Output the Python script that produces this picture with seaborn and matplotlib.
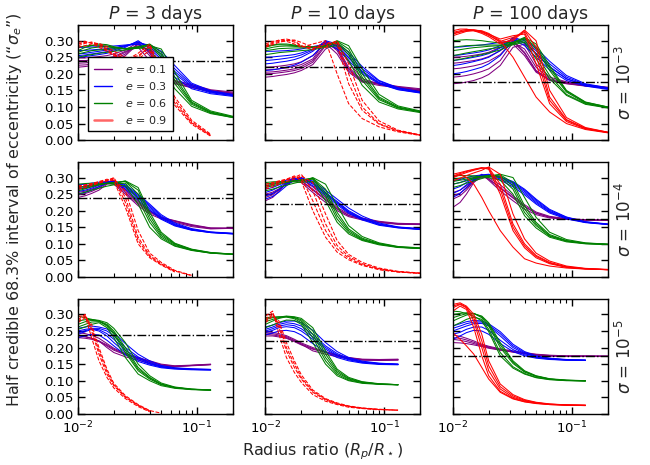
import numpy as np
import pandas as pd
import matplotlib
matplotlib.use('Agg')
import matplotlib.pyplot as plt
import seaborn as sns
from matplotlib.lines import Line2D
from matplotlib.ticker import FormatStrFormatter, NullFormatter, LogLocator

nan = np.nan

# common radius-ratio grid used for all curves
x_grid = [0.010, 0.0115, 0.013, 0.015, 0.0175, 0.020, 0.025, 0.032, 0.040, 0.050, 0.065, 0.090, 0.130, 0.200]

periods = [3, 10, 100]
sigma_exp = [-3, -4, -5]
ecc = [0.1, 0.3, 0.6, 0.9]
ecc_colors = ['purple', 'blue', 'green', 'red']
# dash-dot reference level per period
ref_level = [0.238, 0.220, 0.174]
y_ticks = [0.00, 0.05, 0.10, 0.15, 0.20, 0.25, 0.30]

# ---- sigma = 1e-3 ----
s3_p3_e01 = [[.220, .222, .225, .228, .232, .238, .255, .290, .255, .200, .175, .165, .150, .142],
             [.232, .233, .235, .238, .242, .248, .265, .285, .270, .215, .180, .168, .152, .145],
             [.240, .240, .242, .245, .248, .252, .268, .280, .240, .195, .170, .158, .148, .140],
             [.248, .248, .250, .252, .255, .260, .272, .295, .262, .205, .172, .160, .146, .138],
             [.226, .227, .229, .232, .236, .242, .260, .292, .265, .210, .178, .163, .149, .141]]
s3_p3_e03 = [[.250, .252, .255, .258, .262, .268, .280, .300, .275, .245, .200, .160, .143, .134],
             [.260, .262, .265, .268, .272, .276, .285, .295, .285, .260, .215, .168, .147, .136],
             [.270, .271, .272, .274, .276, .279, .285, .290, .270, .235, .190, .155, .140, .132],
             [.280, .280, .281, .282, .283, .284, .287, .290, .288, .268, .225, .172, .149, .138],
             [.255, .257, .260, .263, .267, .272, .283, .297, .280, .252, .207, .164, .145, .135]]
s3_p3_e06 = [[.270, .280, .285, .290, .288, .282, .275, .280, .290, .265, .190, .115, .085, .070],
             [.260, .265, .270, .272, .274, .275, .276, .282, .288, .250, .170, .108, .082, .068],
             [.250, .255, .258, .262, .265, .268, .272, .278, .275, .225, .155, .102, .080, .068],
             [.280, .284, .286, .286, .284, .280, .276, .277, .285, .275, .205, .120, .088, .072],
             [.265, .272, .278, .281, .281, .279, .276, .280, .287, .258, .180, .112, .084, .070]]
s3_p3_e09 = [[.285, .292, .296, .290, .275, .260, .245, .250, .285, .200, .120, .055, .015, nan],
             [.280, .285, .290, .292, .282, .268, .250, .245, .270, .180, .105, .048, .012, nan],
             [.295, .298, .292, .280, .268, .255, .240, .262, .290, .215, .130, .060, .018, nan],
             [.290, .295, .294, .286, .272, .258, .243, .255, .280, .190, .112, .052, .014, nan]]

s3_p10_e01 = [[.190, .192, .195, .198, .203, .210, .228, .275, .290, .235, .185, .170, .160, .152],
              [.200, .201, .203, .206, .210, .216, .235, .285, .280, .220, .180, .168, .158, .150],
              [.212, .213, .215, .218, .222, .228, .245, .300, .270, .210, .178, .172, .162, .155],
              [.220, .221, .223, .226, .230, .236, .255, .292, .260, .205, .175, .165, .158, .150],
              [.205, .206, .208, .211, .215, .222, .240, .290, .275, .215, .178, .169, .160, .152]]
s3_p10_e03 = [[.210, .212, .215, .220, .226, .235, .255, .295, .285, .250, .205, .172, .153, .143],
              [.230, .232, .235, .238, .243, .250, .268, .300, .290, .258, .215, .178, .157, .145],
              [.250, .251, .253, .255, .258, .263, .275, .295, .275, .240, .200, .170, .152, .142],
              [.268, .268, .269, .270, .272, .275, .282, .290, .292, .265, .222, .180, .158, .146],
              [.240, .242, .244, .247, .251, .257, .272, .298, .282, .248, .208, .174, .155, .144]]
s3_p10_e06 = [[.280, .286, .290, .290, .287, .283, .280, .285, .298, .275, .200, .130, .100, .086],
              [.270, .273, .276, .277, .278, .278, .279, .283, .292, .258, .180, .122, .097, .085],
              [.258, .261, .264, .266, .268, .270, .273, .280, .285, .240, .165, .115, .094, .083],
              [.285, .287, .288, .287, .285, .283, .281, .284, .300, .285, .215, .138, .103, .088],
              [.275, .280, .283, .284, .283, .281, .280, .284, .295, .266, .190, .126, .098, .086]]
s3_p10_e09 = [[.285, .295, .302, .305, .300, .285, .272, .290, .298, .200, .100, .050, .028, .015],
              [.280, .288, .295, .300, .302, .295, .280, .280, .300, .230, .120, .058, .030, .016],
              [.290, .298, .300, .298, .290, .280, .290, .300, .200, .110, .065, .040, .025, .014],
              [.283, .292, .298, .302, .296, .284, .276, .295, .290, .170, .090, .048, .027, .015]]

s3_p100_e01 = [[.170, .172, .175, .180, .188, .198, .225, .280, .290, .230, .190, .176, .166, .160],
               [.190, .192, .195, .200, .207, .215, .240, .295, .275, .220, .185, .174, .165, .158],
               [.215, .217, .220, .224, .230, .238, .258, .300, .265, .210, .182, .172, .164, .158],
               [.250, .251, .253, .256, .260, .265, .280, .290, .255, .205, .180, .170, .163, .157],
               [.232, .234, .237, .240, .245, .252, .270, .298, .262, .208, .181, .171, .164, .158]]
s3_p100_e03 = [[.200, .203, .207, .213, .220, .230, .255, .300, .295, .262, .222, .185, .165, .155],
               [.225, .228, .232, .237, .243, .250, .270, .310, .300, .270, .230, .190, .168, .157],
               [.255, .257, .260, .263, .267, .272, .285, .305, .285, .250, .212, .180, .163, .153],
               [.280, .281, .283, .285, .287, .290, .295, .300, .305, .278, .238, .195, .170, .158],
               [.240, .243, .246, .250, .255, .261, .278, .308, .292, .260, .220, .185, .166, .155]]
s3_p100_e06 = [[.300, .302, .303, .302, .300, .297, .293, .295, .310, .290, .225, .150, .115, .100],
               [.280, .283, .285, .286, .287, .287, .287, .292, .305, .275, .210, .145, .112, .099],
               [.255, .259, .263, .267, .271, .275, .280, .290, .300, .260, .195, .138, .110, .098],
               [.240, .244, .248, .253, .258, .263, .272, .288, .295, .245, .185, .135, .108, .097],
               [.270, .273, .276, .279, .281, .283, .285, .293, .308, .282, .218, .148, .114, .100]]
s3_p100_e09 = [[.320, .326, .330, .332, .330, .322, .300, .250, .190, .130, .085, .050, .032, .022],
               [.325, .330, .334, .333, .328, .318, .295, .300, .330, .280, .130, .062, .036, .024],
               [.315, .322, .328, .330, .327, .320, .305, .315, .320, .230, .110, .056, .034, .023],
               [.330, .335, .335, .330, .322, .312, .290, .305, .332, .300, .150, .068, .038, .024],
               [.322, .327, .331, .331, .325, .316, .298, .310, .325, .255, .120, .060, .035, .023]]

# ---- sigma = 1e-4 ----
s4_p3_e01 = [[.240, .245, .252, .262, .280, .285, .255, .220, .195, .178, .168, .155, .147, .148],
             [.255, .259, .265, .273, .285, .290, .265, .228, .200, .180, .170, .158, .148, .146],
             [.265, .268, .272, .278, .282, .280, .250, .215, .190, .175, .165, .152, .145, .147],
             [.248, .252, .258, .268, .283, .288, .260, .224, .198, .179, .169, .156, .147, .147]]
s4_p3_e03 = [[.250, .255, .262, .272, .283, .288, .272, .242, .212, .180, .158, .143, .135, .131],
             [.265, .269, .275, .282, .288, .290, .278, .250, .220, .188, .163, .146, .136, .132],
             [.278, .280, .283, .286, .288, .285, .265, .232, .202, .174, .154, .141, .134, .130],
             [.270, .273, .277, .282, .285, .286, .270, .238, .207, .177, .156, .142, .134, .130],
             [.258, .262, .268, .277, .286, .289, .275, .246, .216, .184, .160, .144, .135, .131]]
s4_p3_e06 = [[.260, .266, .272, .278, .283, .285, .288, .250, .175, .125, .098, .082, .073, .069],
             [.270, .274, .278, .280, .282, .283, .290, .270, .195, .135, .102, .084, .074, .069],
             [.250, .256, .262, .268, .274, .278, .275, .220, .150, .115, .093, .080, .072, .068],
             [.280, .282, .283, .283, .282, .280, .283, .235, .165, .120, .095, .081, .072, .068],
             [.265, .270, .275, .279, .283, .284, .289, .262, .185, .130, .100, .083, .073, .069]]
s4_p3_e09 = [[.270, .275, .280, .285, .290, .300, .240, .120, .065, .040, .018, .004, nan, nan],
             [.275, .278, .282, .288, .295, .290, .210, .100, .058, .036, .015, nan, nan, nan],
             [.265, .270, .276, .283, .290, .295, .260, .140, .072, .044, .020, .005, nan, nan],
             [.272, .276, .281, .286, .292, .298, .225, .110, .062, .038, .017, nan, nan, nan]]

s4_p10_e01 = [[.230, .240, .258, .285, .300, .290, .262, .232, .205, .185, .175, .166, .160, .160],
              [.240, .248, .262, .282, .295, .295, .272, .240, .210, .190, .178, .168, .162, .160],
              [.250, .256, .266, .280, .290, .285, .255, .225, .200, .182, .172, .164, .159, .158],
              [.245, .252, .264, .281, .293, .290, .265, .235, .206, .186, .175, .166, .160, .159]]
s4_p10_e03 = [[.235, .243, .256, .275, .293, .300, .285, .255, .228, .200, .178, .160, .150, .145],
              [.255, .262, .272, .285, .297, .298, .280, .250, .222, .195, .175, .158, .149, .144],
              [.275, .279, .285, .292, .297, .295, .290, .262, .235, .208, .184, .163, .151, .146],
              [.265, .270, .278, .288, .295, .296, .275, .245, .218, .192, .172, .156, .148, .143],
              [.245, .252, .264, .280, .295, .299, .283, .252, .225, .197, .176, .159, .150, .144]]
s4_p10_e06 = [[.270, .275, .280, .285, .290, .293, .298, .265, .195, .145, .117, .101, .091, .087],
              [.280, .283, .286, .288, .290, .292, .295, .245, .175, .135, .112, .099, .090, .086],
              [.260, .265, .271, .277, .283, .288, .300, .280, .215, .155, .122, .103, .092, .088],
              [.285, .287, .288, .288, .287, .286, .288, .230, .165, .130, .110, .097, .089, .086],
              [.275, .279, .283, .287, .290, .292, .297, .255, .185, .140, .114, .100, .090, .086]]
s4_p10_e09 = [[.270, .278, .285, .293, .300, .310, .260, .160, .095, .062, .040, .025, .016, .011],
              [.280, .285, .290, .295, .305, .290, .200, .120, .075, .052, .035, .022, .015, .011],
              [.265, .272, .280, .288, .295, .305, .285, .190, .110, .068, .044, .027, .017, .012],
              [.275, .281, .288, .294, .302, .300, .230, .140, .085, .057, .037, .023, .015, .011]]

s4_p100_e01 = [[.210, .225, .250, .285, .305, .295, .268, .238, .212, .192, .180, .175, .172, .172],
               [.235, .245, .262, .288, .300, .300, .278, .245, .218, .196, .183, .176, .173, .172],
               [.255, .262, .275, .292, .310, .292, .260, .230, .205, .188, .178, .174, .171, .171],
               [.245, .253, .268, .290, .305, .296, .270, .240, .213, .193, .181, .175, .172, .171]]
s4_p100_e03 = [[.240, .252, .270, .292, .305, .308, .300, .282, .258, .228, .198, .178, .165, .159],
               [.265, .273, .285, .298, .308, .310, .302, .288, .265, .235, .204, .181, .167, .160],
               [.290, .294, .300, .305, .308, .305, .292, .272, .248, .220, .193, .175, .164, .158],
               [.280, .285, .292, .300, .305, .306, .296, .278, .253, .224, .196, .177, .165, .159],
               [.252, .262, .278, .295, .306, .309, .301, .285, .262, .232, .201, .180, .166, .159]]
s4_p100_e06 = [[.280, .285, .290, .296, .302, .306, .308, .285, .215, .165, .128, .110, .102, .099],
               [.295, .298, .300, .302, .304, .305, .300, .265, .195, .155, .123, .108, .101, .098],
               [.270, .276, .283, .290, .297, .303, .310, .300, .240, .180, .135, .113, .103, .099],
               [.305, .306, .306, .305, .303, .300, .292, .250, .185, .148, .120, .106, .100, .098],
               [.288, .292, .295, .299, .303, .305, .305, .275, .205, .160, .125, .109, .101, .098]]
s4_p100_e09 = [[.300, .310, .300, .280, .240, .200, .140, .090, .055, .042, .033, .027, .024, .022],
               [.300, .308, .315, .322, .328, .330, .280, .160, .100, .065, .044, .031, .025, .022],
               [.310, .315, .320, .325, .330, .325, .250, .140, .088, .058, .040, .029, .024, .022],
               [.290, .298, .306, .314, .322, .332, .310, .190, .115, .072, .048, .033, .026, .023],
               [.305, .312, .318, .324, .329, .328, .265, .150, .094, .062, .042, .030, .025, .022]]

# ---- sigma = 1e-5 ----
s5_p3_e01 = [[.230, .228, .225, .218, .205, .192, .178, .168, .158, .148, .144, .146, .149, nan],
             [.245, .242, .237, .228, .212, .198, .182, .170, .160, .150, .145, .147, .150, nan],
             [.238, .234, .228, .220, .200, .185, .172, .162, .152, .145, .142, .145, .148, nan],
             [.235, .232, .228, .220, .208, .195, .180, .166, .156, .147, .143, .146, .149, nan]]
s5_p3_e03 = [[.240, .248, .255, .250, .235, .215, .185, .163, .150, .141, .137, .134, .133, nan],
             [.250, .255, .258, .258, .250, .235, .200, .172, .155, .143, .138, .135, .134, nan],
             [.230, .235, .240, .238, .222, .205, .178, .158, .147, .139, .135, .133, .132, nan],
             [.258, .262, .265, .262, .256, .245, .212, .180, .160, .146, .139, .136, .134, nan],
             [.245, .251, .256, .254, .242, .225, .192, .168, .152, .142, .137, .134, .133, nan]]
s5_p3_e06 = [[.270, .278, .282, .280, .270, .250, .200, .140, .110, .090, .080, .074, .072, nan],
             [.295, .290, .285, .282, .275, .258, .215, .150, .115, .093, .081, .075, .072, nan],
             [.255, .262, .270, .275, .260, .230, .170, .120, .100, .085, .077, .073, .071, nan],
             [.280, .284, .285, .280, .265, .240, .185, .130, .105, .088, .079, .074, .072, nan],
             [.262, .270, .277, .278, .268, .245, .192, .135, .108, .089, .079, .074, .072, nan]]
s5_p3_e09 = [[.285, .300, .250, .180, .120, .085, .050, .025, .008, nan, nan, nan, nan, nan],
             [.275, .290, .270, .200, .135, .092, .055, .028, .010, .002, nan, nan, nan, nan],
             [.295, .295, .230, .160, .110, .078, .046, .022, .006, nan, nan, nan, nan, nan],
             [.280, .296, .260, .190, .128, .088, .052, .026, .009, nan, nan, nan, nan, nan]]

s5_p10_e01 = [[.235, .235, .232, .228, .218, .208, .195, .185, .175, .168, .163, .162, .163, nan],
              [.248, .246, .242, .236, .225, .214, .200, .188, .178, .170, .165, .164, .165, nan],
              [.240, .238, .235, .230, .220, .210, .190, .180, .172, .166, .162, .161, .162, nan],
              [.244, .242, .238, .233, .222, .211, .197, .186, .176, .169, .164, .163, .164, nan]]
s5_p10_e03 = [[.245, .252, .260, .263, .260, .250, .225, .195, .175, .163, .155, .151, .149, nan],
              [.255, .262, .270, .275, .272, .265, .240, .205, .182, .167, .157, .152, .150, nan],
              [.238, .244, .250, .252, .248, .238, .212, .187, .170, .160, .153, .149, .148, nan],
              [.262, .268, .275, .280, .280, .275, .252, .215, .188, .170, .159, .153, .150, nan],
              [.250, .257, .265, .269, .266, .257, .232, .200, .178, .165, .156, .151, .149, nan]]
s5_p10_e06 = [[.270, .280, .288, .293, .290, .280, .240, .170, .125, .105, .095, .090, .088, nan],
              [.285, .290, .292, .295, .293, .288, .260, .190, .135, .110, .097, .091, .088, nan],
              [.260, .268, .276, .283, .282, .270, .215, .150, .115, .100, .092, .089, .087, nan],
              [.290, .292, .293, .292, .287, .275, .230, .160, .120, .102, .094, .090, .088, nan],
              [.278, .285, .290, .294, .291, .284, .250, .180, .130, .107, .096, .090, .088, nan]]
s5_p10_e09 = [[.285, .305, .260, .190, .140, .105, .065, .042, .030, .022, .017, .013, .011, nan],
              [.275, .295, .280, .215, .160, .118, .072, .046, .033, .024, .018, .014, .011, nan],
              [.295, .310, .240, .170, .125, .095, .058, .038, .028, .020, .016, .012, nan, nan],
              [.280, .300, .270, .200, .150, .110, .068, .044, .031, .023, .017, .013, .011, nan]]

s5_p100_e01 = [[.215, .214, .212, .208, .203, .198, .192, .187, .182, .178, .175, .174, .174, .174],
               [.238, .234, .228, .220, .210, .204, .196, .190, .185, .180, .177, .175, .175, .174],
               [.225, .222, .218, .212, .205, .200, .193, .186, .181, .177, .174, .173, .173, .173],
               [.230, .228, .223, .216, .207, .202, .194, .188, .183, .179, .176, .174, .174, .174]]
s5_p100_e03 = [[.225, .235, .245, .252, .250, .240, .212, .188, .175, .168, .164, .162, .161, nan],
               [.250, .258, .265, .272, .273, .265, .235, .200, .182, .172, .166, .163, .162, nan],
               [.265, .272, .278, .282, .280, .272, .248, .210, .188, .175, .168, .164, .162, nan],
               [.240, .246, .255, .262, .262, .252, .222, .194, .178, .170, .165, .162, .161, nan],
               [.258, .265, .272, .277, .277, .268, .242, .205, .185, .173, .167, .163, .162, nan]]
s5_p100_e06 = [[.280, .290, .298, .302, .295, .275, .215, .160, .130, .115, .106, .102, .100, nan],
               [.300, .303, .305, .303, .290, .265, .200, .152, .126, .113, .105, .101, .100, nan],
               [.265, .275, .285, .292, .285, .255, .185, .142, .122, .110, .104, .101, .099, nan],
               [.310, .308, .302, .295, .280, .248, .175, .138, .120, .109, .103, .100, .099, nan],
               [.290, .297, .302, .303, .293, .270, .208, .156, .128, .114, .105, .101, .100, nan]]
s5_p100_e09 = [[.245, .225, .205, .180, .140, .105, .065, .045, .036, .031, .028, .026, .025, nan],
               [.320, .330, .320, .280, .200, .130, .075, .050, .039, .033, .029, .027, .026, nan],
               [.330, .335, .325, .300, .240, .160, .090, .058, .043, .035, .030, .027, .026, nan],
               [.310, .325, .315, .260, .175, .115, .068, .047, .037, .032, .028, .026, .025, nan],
               [.325, .332, .322, .290, .220, .145, .082, .054, .041, .034, .029, .027, .026, nan]]

panels = [
    [[s3_p3_e01, s3_p3_e03, s3_p3_e06, s3_p3_e09],
     [s3_p10_e01, s3_p10_e03, s3_p10_e06, s3_p10_e09],
     [s3_p100_e01, s3_p100_e03, s3_p100_e06, s3_p100_e09]],
    [[s4_p3_e01, s4_p3_e03, s4_p3_e06, s4_p3_e09],
     [s4_p10_e01, s4_p10_e03, s4_p10_e06, s4_p10_e09],
     [s4_p100_e01, s4_p100_e03, s4_p100_e06, s4_p100_e09]],
    [[s5_p3_e01, s5_p3_e03, s5_p3_e06, s5_p3_e09],
     [s5_p10_e01, s5_p10_e03, s5_p10_e06, s5_p10_e09],
     [s5_p100_e01, s5_p100_e03, s5_p100_e06, s5_p100_e09]],
]

sns.set_style('ticks')
plt.rcParams['font.family'] = ['DejaVu Sans']
plt.rcParams['mathtext.fontset'] = 'dejavusans'
plt.rcParams['axes.edgecolor'] = 'black'
plt.rcParams['axes.linewidth'] = 1.0
plt.rcParams['xtick.direction'] = 'in'
plt.rcParams['ytick.direction'] = 'in'
plt.rcParams['xtick.color'] = 'black'
plt.rcParams['ytick.color'] = 'black'
plt.rcParams['xtick.top'] = True
plt.rcParams['ytick.right'] = True

fig, axes = plt.subplots(3, 3, sharex=True, sharey=True, figsize=(6.5, 4.65), dpi=100)
fig.subplots_adjust(left=0.12, right=0.935, bottom=0.11, top=0.946, wspace=0.21, hspace=0.19)

for i in range(3):
    for j in range(3):
        ax = axes[i, j]
        for k in range(4):
            curves = panels[i][j][k]
            rows = []
            for n, c in enumerate(curves):
                for xv, yv in zip(x_grid, c):
                    rows.append((xv, yv, n))
            df = pd.DataFrame(rows, columns=['x', 'y', 'curve'])
            ls = '--' if (k == 3 and j < 2) else '-'
            sns.lineplot(data=df, x='x', y='y', units='curve', estimator=None,
                         color=ecc_colors[k], lw=0.75, linestyle=ls, ax=ax, legend=False)
        ax.axhline(ref_level[j], color='black', lw=1.0, ls='-.', zorder=5)
        ax.set_xscale('log')
        ax.set_xlim(0.01, 0.2)
        ax.set_ylim(0, 0.347)
        ax.set_yticks(y_ticks)
        ax.yaxis.set_major_formatter(FormatStrFormatter('%.2f'))
        ax.xaxis.set_minor_locator(LogLocator(base=10, subs=np.arange(2, 10)))
        ax.xaxis.set_minor_formatter(NullFormatter())
        ax.tick_params(which='both', direction='in', top=True, right=True,
                       color='black', labelsize=9.5, pad=3)
        ax.tick_params(axis='x', which='major', pad=4)
        ax.tick_params(which='major', length=5, width=1.0)
        ax.tick_params(which='minor', length=3, width=0.8)
        ax.set_xlabel('')
        ax.set_ylabel('')
        if i == 0:
            ax.set_title('$P$ = %d days' % periods[j], fontsize=12.5, pad=3)
        if j == 2:
            ax.text(1.11, 0.5, r'$\sigma$ = $10^{%d}$' % sigma_exp[i], transform=ax.transAxes,
                    rotation=90, va='center', ha='center', fontsize=12)

handles = [Line2D([0], [0], color=c, lw=1.0) for c in ecc_colors[:3]]
handles.append(Line2D([0], [0], color='red', lw=1.8, alpha=0.6))
labels = ['$e$ = %.1f' % e for e in ecc]
axes[0, 0].legend(handles, labels, loc='lower left', bbox_to_anchor=(0.03, 0.03),
                  frameon=True, fancybox=False, edgecolor='black', framealpha=1,
                  fontsize=8, handlelength=1.6, handletextpad=1.2,
                  borderpad=0.5, labelspacing=0.45)

fig.text(0.023, 0.55, 'Half credible 68.3% interval of eccentricity (\u201c$\\sigma_e$\u201d)',
         rotation=90, va='center', ha='center', fontsize=11.5)
fig.text(0.497, 0.006, r'Radius ratio ($R_p/R_\star$)', va='bottom', ha='center', fontsize=11.5)

fig.savefig('out.png', dpi=100)
